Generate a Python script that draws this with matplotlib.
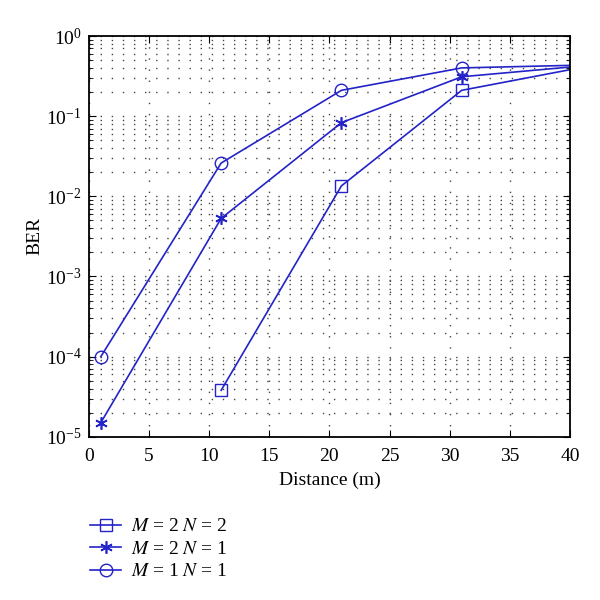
import matplotlib
matplotlib.use('Agg')
from matplotlib import pyplot as plt
from matplotlib.ticker import MultipleLocator, LogLocator, NullFormatter

plt.rcParams['font.family'] = 'Liberation Serif'
plt.rcParams['mathtext.fontset'] = 'stix'
plt.rcParams['lines.scale_dashes'] = False

dist = [1, 11, 21, 31, 40]
ber_m2n2 = [3.8e-5, 0.0135, 0.21, 0.38]
ber_m2n1 = [1.5e-5, 0.0053, 0.083, 0.31, 0.41]
ber_m1n1 = [1.0e-4, 0.026, 0.21, 0.40, 0.43]

blue = '#2323c8'

fig = plt.figure(figsize=(6, 6), dpi=100)
ax = fig.add_axes([0.148, 0.272, 0.802, 0.668])

# markers only at the simulated points, the last segment runs to the edge
ax.plot(dist[1:], ber_m2n2, '-s', color=blue, mfc='none', ms=9, lw=1.2,
        markevery=[0, 1, 2], label='$M$ = 2 $N$ = 2')
ax.plot(dist, ber_m2n1, '-', marker=(6, 2, 0), color=blue, ms=9, lw=1.2,
        mew=1.2, markevery=[0, 1, 2, 3], label='$M$ = 2 $N$ = 1')
ax.plot(dist, ber_m1n1, '-o', color=blue, mfc='none', ms=9, lw=1.2,
        markevery=[0, 1, 2, 3], label='$M$ = 1 $N$ = 1')

ax.set_yscale('log')
ax.set_xlim(0, 40)
ax.set_ylim(1e-5, 1)
ax.xaxis.set_major_locator(MultipleLocator(5))
ax.yaxis.set_major_locator(LogLocator(base=10, numticks=10))
ax.yaxis.set_minor_locator(LogLocator(base=10, subs=range(2, 10), numticks=10))
ax.yaxis.set_minor_formatter(NullFormatter())

dots = (0, (1.0, 7.0))
ax.grid(True, axis='y', which='both', linestyle=dots, color='#444444', lw=1.0)
ax.grid(True, axis='x', which='major', linestyle=dots, color='#444444', lw=1.0)
ax.tick_params(which='both', direction='in', top=True, right=True, labelsize=14)
ax.tick_params(axis='x', which='major', length=5, pad=8)
ax.tick_params(axis='y', which='major', length=5, pad=5)
ax.tick_params(axis='y', which='minor', length=3)
for s in ax.spines.values():
    s.set_linewidth(1.3)

ax.set_xlabel('Distance (m)', fontsize=14, labelpad=5)
ax.set_ylabel('BER', fontsize=14, labelpad=2)

fig.legend(loc='upper left', bbox_to_anchor=(0.137, 0.15), frameon=False,
           fontsize=14, handlelength=1.6, labelspacing=0.25, borderaxespad=0,
           handletextpad=0.5)

fig.savefig('out.png', dpi=100)
